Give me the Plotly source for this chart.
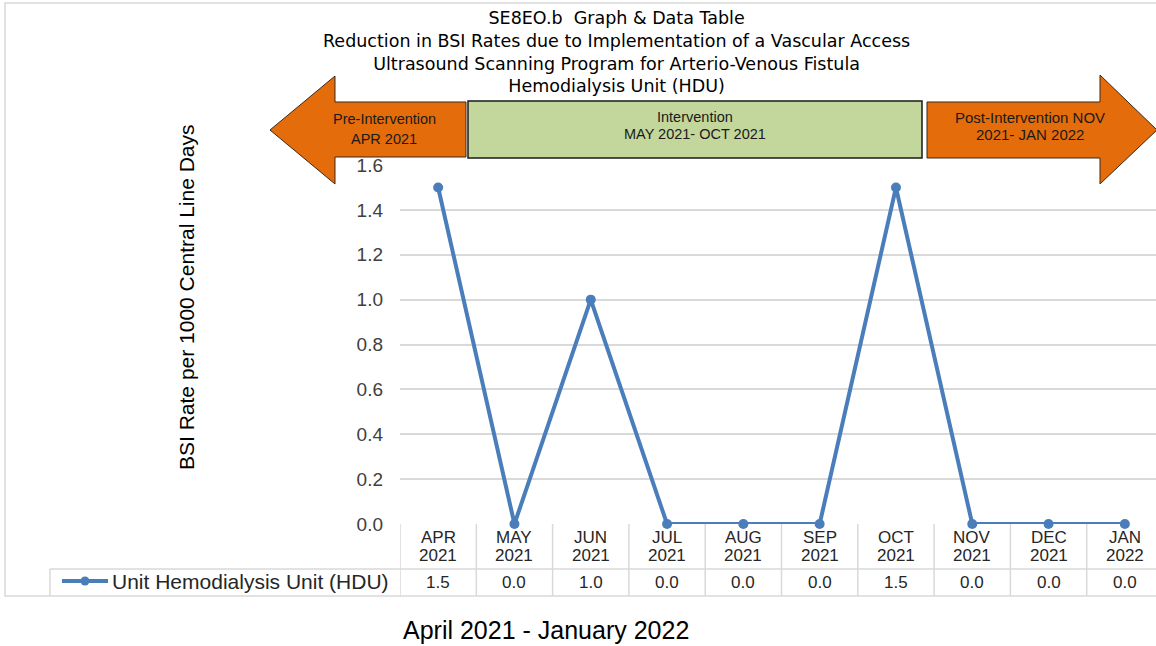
import plotly.graph_objects as go

categories = ["APR 2021", "MAY 2021", "JUN 2021", "JUL 2021", "AUG 2021",
              "SEP 2021", "OCT 2021", "NOV 2021", "DEC 2021", "JAN 2022"]
values = [1.5, 0.0, 1.0, 0.0, 0.0, 0.0, 1.5, 0.0, 0.0, 0.0]
series_name = "Unit Hemodialysis Unit (HDU)"
y_ticks = [0.0, 0.2, 0.4, 0.6, 0.8, 1.0, 1.2, 1.4, 1.6]
title_lines = ["SE8EO.b  Graph &amp; Data Table",
               "Reduction in BSI Rates due to Implementation of a Vascular Access",
               "Ultrasound Scanning Program for Arterio-Venous Fistula",
               "Hemodialysis Unit (HDU)"]
phase_pre = ["Pre-Intervention", "APR 2021"]
phase_int = ["Intervention", "MAY 2021- OCT 2021"]
phase_post = ["Post-Intervention NOV", "2021- JAN 2022"]

W, H = 1156, 646
L, T, B = 400, 165, 524
PW = W - L
PH = B - T


def X(px):
    return (px - L) / PW


def Y(py):
    return (B - py) / PH


BLUE = "#4A7EBB"
GRID = "#D9D9D9"
TXT = "#262626"
FONT = "Liberation Sans, Arial, sans-serif"
WIDE = "DejaVu Sans, Verdana, sans-serif"

fig = go.Figure()
fig.add_trace(go.Scatter(
    x=categories, y=values, mode="lines+markers",
    line=dict(color=BLUE, width=4),
    marker=dict(color=BLUE, size=10),
    cliponaxis=False, showlegend=False, name=series_name,
))

shapes = []
annotations = []


def text(px, py, s, size, color="#000000", xanchor="center", angle=0,
         xref="paper", xv=None, family=FONT, yanchor="middle"):
    annotations.append(dict(
        x=X(px) if xv is None else xv, xref=xref, y=Y(py), yref="paper",
        text=s, showarrow=False, xanchor=xanchor, yanchor=yanchor,
        textangle=angle, align="center",
        font=dict(family=family, size=size, color=color)))


# outer chart frame
shapes.append(dict(type="rect", xref="paper", yref="paper",
                   x0=X(5), x1=X(1162), y0=Y(596), y1=Y(3),
                   line=dict(color=GRID, width=1.5), layer="below"))

# data table lines
n = len(categories)
for i in range(n + 1):
    shapes.append(dict(type="line", xref="x", yref="paper",
                       x0=i - 0.5, x1=i - 0.5, y0=Y(596), y1=Y(524),
                       line=dict(color=GRID, width=1.5)))
shapes.append(dict(type="line", xref="paper", yref="paper",
                   x0=X(50), x1=X(1162), y0=Y(569), y1=Y(569),
                   line=dict(color=GRID, width=1.5)))
shapes.append(dict(type="line", xref="paper", yref="paper",
                   x0=X(50), x1=X(50), y0=Y(569), y1=Y(596),
                   line=dict(color=GRID, width=1.5)))

for i, c in enumerate(categories):
    mon, yr = c.split(" ")
    text(0, 537, mon, 17, TXT, xref="x", xv=c)
    text(0, 555, yr, 17, TXT, xref="x", xv=c)
    text(0, 582, f"{values[i]:.1f}", 17, TXT, xref="x", xv=c)

# legend key in table
shapes.append(dict(type="line", xref="paper", yref="paper",
                   x0=X(62), x1=X(108), y0=Y(581), y1=Y(581),
                   line=dict(color=BLUE, width=4)))
shapes.append(dict(type="circle", xref="paper", yref="paper",
                   x0=X(80.5), x1=X(89.5), y0=Y(585.5), y1=Y(576.5),
                   fillcolor=BLUE, line=dict(color=BLUE, width=0)))
text(110, 581, series_name, 21, TXT, xanchor="left")

# intervention arrows / box
ORANGE = "#E46C0A"
GREEN = "#C3D69B"


def path(pts):
    return "M " + " L ".join(f"{X(a):.5f},{Y(b):.5f}" for a, b in pts) + " Z"


shapes.append(dict(type="path", xref="paper", yref="paper",
                   path=path([(270, 130), (335, 76), (335, 102), (466, 102),
                              (466, 157), (335, 157), (335, 184)]),
                   fillcolor=ORANGE, line=dict(color="#3a2a1a", width=1),
                   layer="above"))
shapes.append(dict(type="rect", xref="paper", yref="paper",
                   x0=X(468), x1=X(922), y0=Y(158), y1=Y(101),
                   fillcolor=GREEN, line=dict(color="#1a1a1a", width=1.5),
                   layer="above"))
shapes.append(dict(type="path", xref="paper", yref="paper",
                   path=path([(927, 102), (1100, 102), (1100, 75), (1157, 130),
                              (1100, 184), (1100, 158), (927, 158)]),
                   fillcolor=ORANGE, line=dict(color="#3a2a1a", width=1),
                   layer="above"))

text(384, 119, phase_pre[0], 14.5, "#1a1a1a")
text(384, 139, phase_pre[1], 14.5, "#1a1a1a")
text(695, 117, phase_int[0], 14.5, "#1a1a1a")
text(695, 134, phase_int[1], 14.5, "#1a1a1a")
text(1030, 117, phase_post[0], 15, "#1a1a1a")
text(1030, 135, phase_post[1], 15, "#1a1a1a")

# title (one multi-line block)
text(616, 6, "<br>".join(title_lines), 17.5, family=WIDE, yanchor="top")

# y-axis title
text(186, 297, "BSI Rate per 1000 Central Line Days", 21, angle=-90)

# x-axis caption
text(546, 630, "April 2021 - January 2022", 25)

fig.update_layout(
    width=W, height=H,
    margin=dict(l=L, r=0, t=T, b=H - B, autoexpand=False),
    paper_bgcolor="white", plot_bgcolor="white",
    shapes=shapes, annotations=annotations,
    showlegend=False,
    xaxis=dict(type="category", range=[-0.5, -0.5 + PW / 76.3],
               showticklabels=False, showgrid=False, zeroline=False,
               showline=False, fixedrange=True),
    yaxis=dict(range=[0, 1.6], tickvals=y_ticks,
               ticktext=[f"{v:.1f}" for v in y_ticks],
               showgrid=True, gridcolor=GRID, gridwidth=1.5,
               zeroline=False, showline=False,
               ticks="", ticklabelstandoff=16,
               tickfont=dict(family=FONT, size=19, color="#404040")),
)

fig.write_html("out.html", config={"displayModeBar": False},
               post_script="document.body.style.margin='0';document.body.style.overflow='hidden';")
